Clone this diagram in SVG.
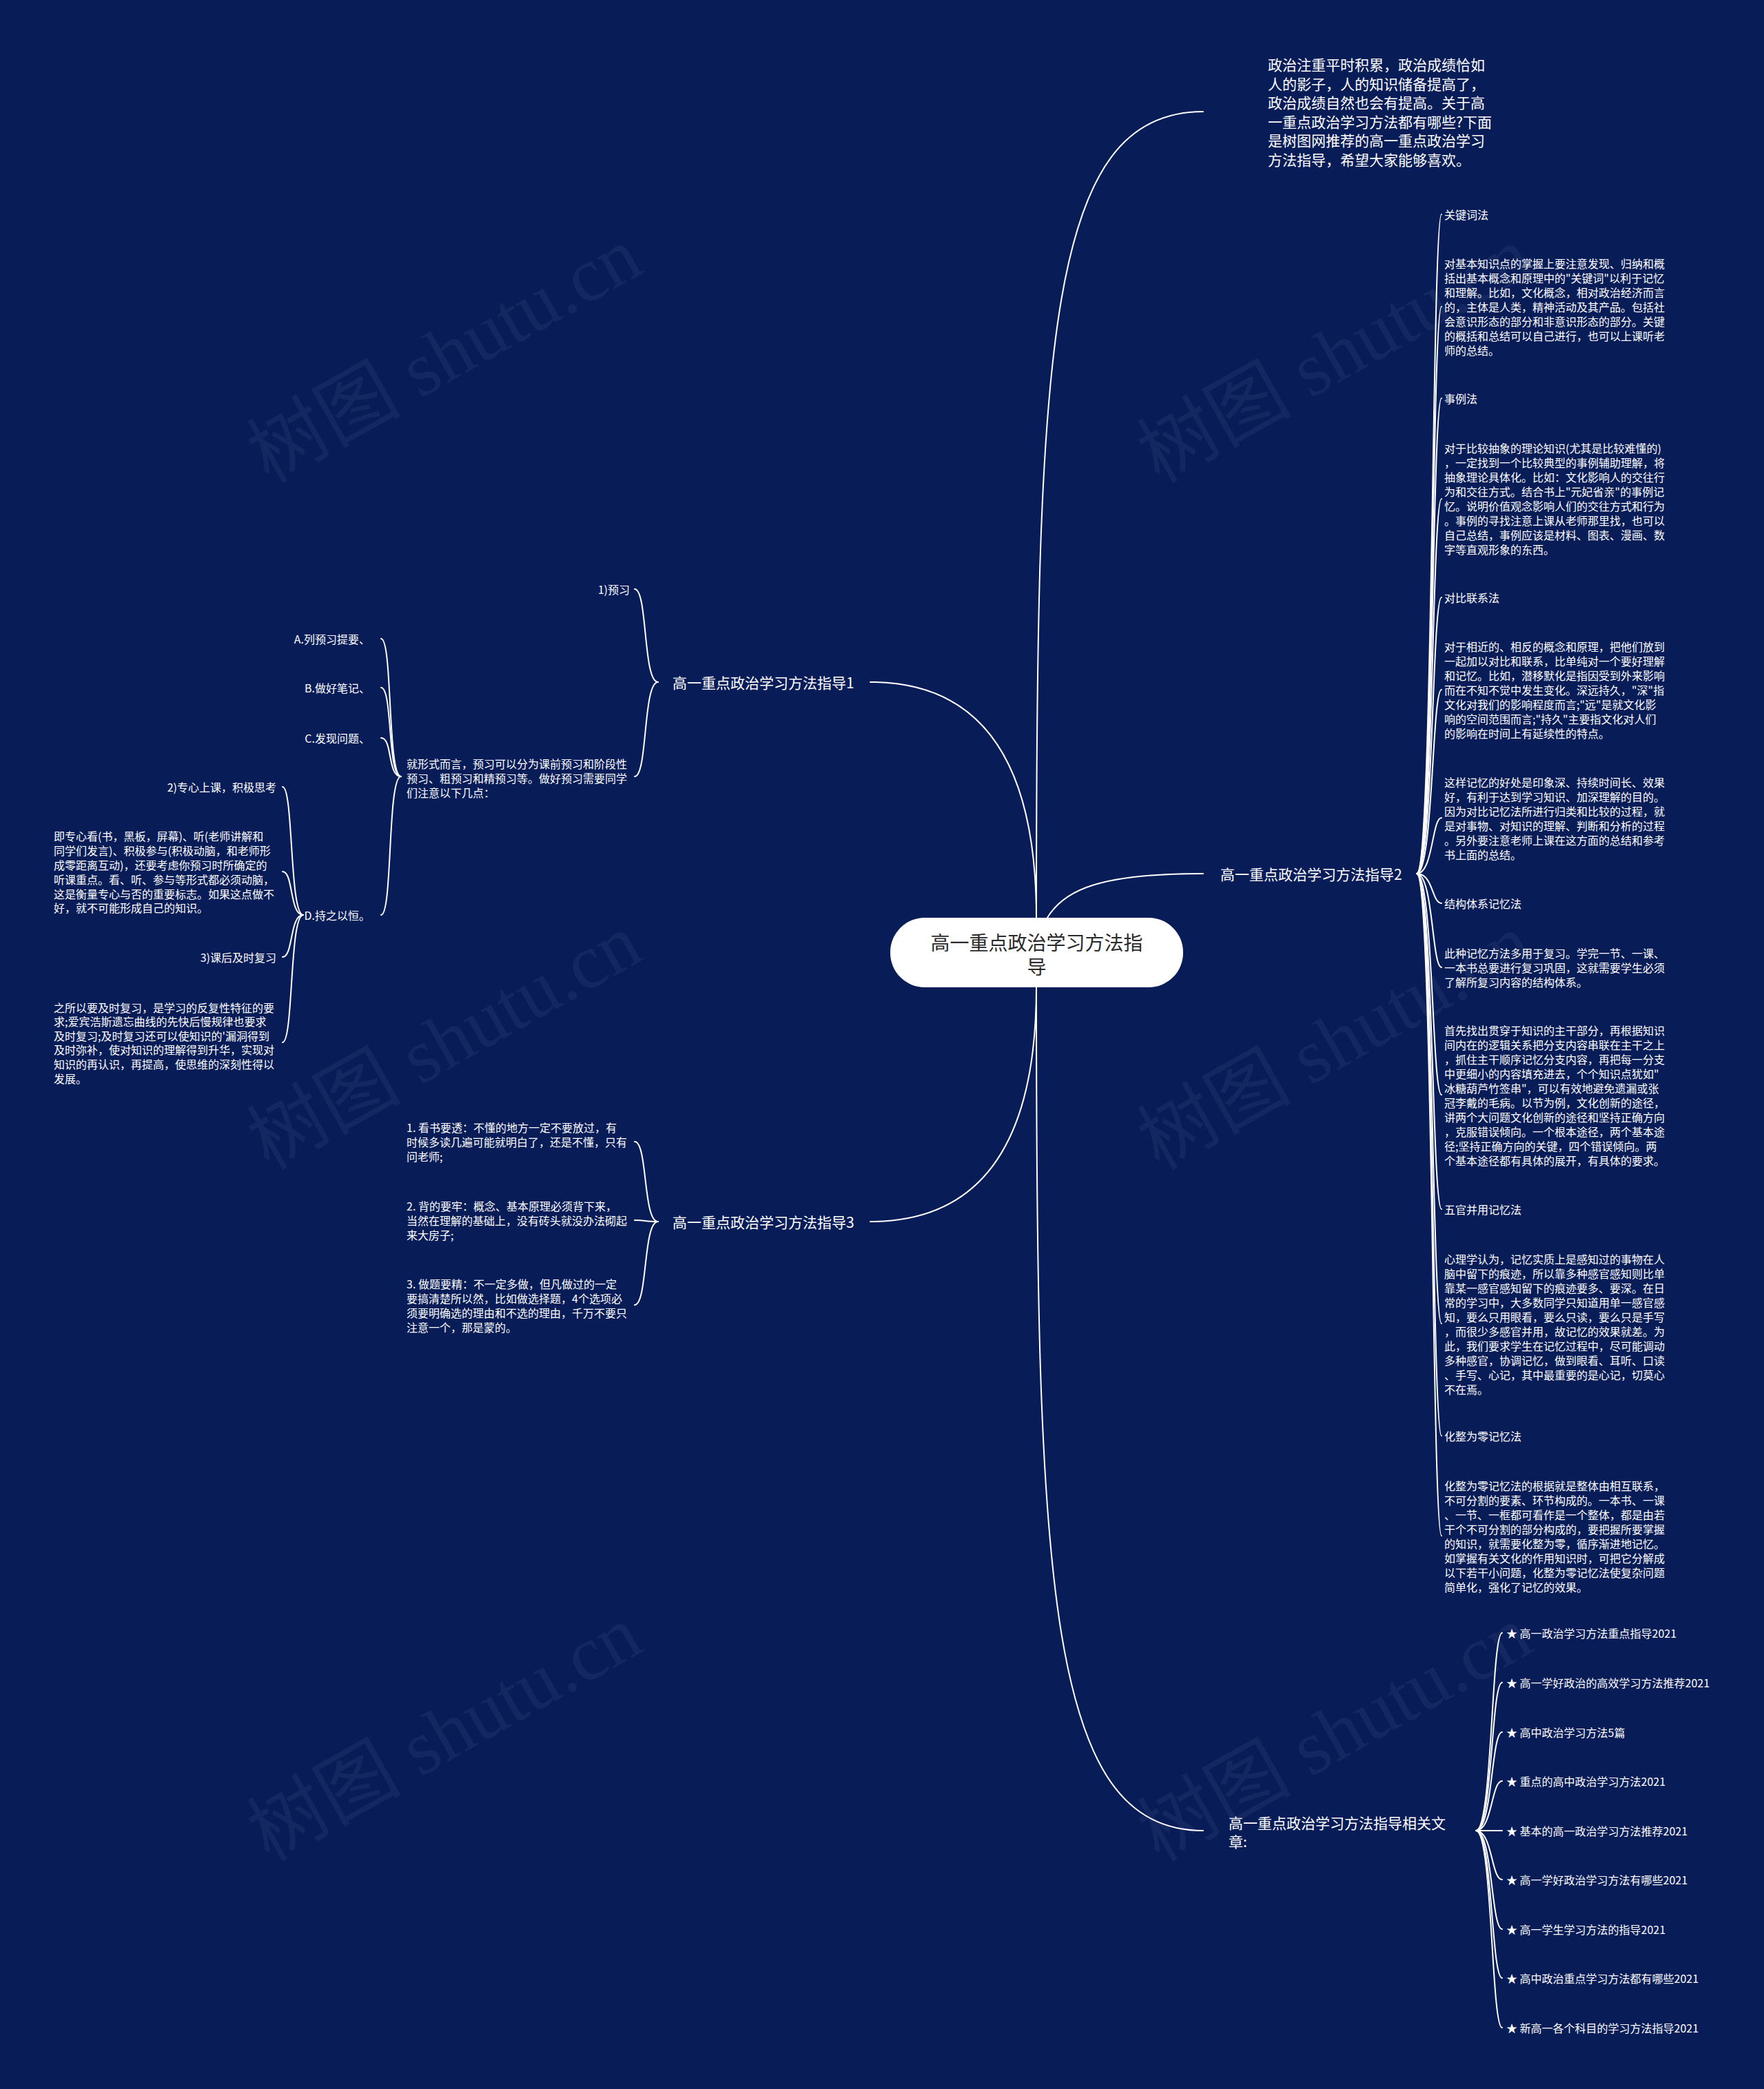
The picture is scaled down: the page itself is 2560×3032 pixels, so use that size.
<svg xmlns="http://www.w3.org/2000/svg" width="2560" height="3032" viewBox="0 0 2560 3032">
<style>
text{font-family:"Noto Sans CJK SC","Noto Sans",sans-serif;fill:#ffffff;dominant-baseline:central}
.s16{font-size:16px}
.s21{font-size:21px}
.r{text-anchor:end}
.wm{font-family:"Liberation Serif","Noto Sans CJK SC",serif;font-size:112px;fill:#ffffff;fill-opacity:0.05}
.c path{fill:none;stroke:#ffffff;stroke-width:2;stroke-linecap:round}
</style>
<rect x="0" y="0" width="2560" height="3032" fill="#081c58"/>
<g id="watermarks">
<text class="wm" transform="translate(645,515) rotate(-29.4)" text-anchor="middle">树图 shutu.cn</text>
<text class="wm" transform="translate(1937,515) rotate(-29.4)" text-anchor="middle">树图 shutu.cn</text>
<text class="wm" transform="translate(645,1512) rotate(-29.4)" text-anchor="middle">树图 shutu.cn</text>
<text class="wm" transform="translate(1937,1512) rotate(-29.4)" text-anchor="middle">树图 shutu.cn</text>
<text class="wm" transform="translate(645,2516) rotate(-29.4)" text-anchor="middle">树图 shutu.cn</text>
<text class="wm" transform="translate(1937,2516) rotate(-29.4)" text-anchor="middle">树图 shutu.cn</text>
</g>
<g id="connectors" class="c">
<path d="M1504 1332 C1504 500 1520 162 1746 162"/>
<path d="M1520 1332 C1545 1290 1600 1268 1746 1268"/>
<path d="M1504 1332 Q1504 990 1263 990"/>
<path d="M1504 1433 Q1504 1773 1263 1773"/>
<path d="M1504 1433 C1504 2300 1520 2657 1746 2657"/>
<path d="M2056 1268 C2080 1268 2078 311 2092 311"/>
<path d="M2056 1268 C2080 1268 2078 445 2092 445"/>
<path d="M2056 1268 C2080 1268 2078 578 2092 578"/>
<path d="M2056 1268 C2080 1268 2078 724 2092 724"/>
<path d="M2056 1268 C2080 1268 2078 867 2092 867"/>
<path d="M2056 1268 C2080 1268 2078 1001 2092 1001"/>
<path d="M2056 1268 C2080 1268 2078 1187 2092 1187"/>
<path d="M2056 1268 C2080 1268 2078 1311 2092 1311"/>
<path d="M2056 1268 C2080 1268 2078 1404 2092 1404"/>
<path d="M2056 1268 C2080 1268 2078 1589 2092 1589"/>
<path d="M2056 1268 C2080 1268 2078 1755 2092 1755"/>
<path d="M2056 1268 C2080 1268 2078 1921 2092 1921"/>
<path d="M2056 1268 C2080 1268 2078 2084 2092 2084"/>
<path d="M2056 1268 C2080 1268 2078 2229 2092 2229"/>
<path d="M955 990 C933 990 940 855 921 855"/>
<path d="M955 990 C933 990 940 1127 921 1127"/>
<path d="M582 1127 C562 1127 570 927 553 927"/>
<path d="M582 1127 C562 1127 570 998 553 998"/>
<path d="M582 1127 C562 1127 570 1071 553 1071"/>
<path d="M582 1127 C562 1127 570 1328 553 1328"/>
<path d="M440 1328 C420 1328 426 1142 410 1142"/>
<path d="M440 1328 C420 1328 426 1265 410 1265"/>
<path d="M440 1328 C420 1328 426 1389 410 1389"/>
<path d="M440 1328 C420 1328 426 1513 410 1513"/>
<path d="M955 1773 C933 1773 940 1657 921 1657"/>
<path d="M955 1773 C933 1773 940 1771 921 1771"/>
<path d="M955 1773 C933 1773 940 1894 921 1894"/>
<path d="M2142 2657 C2166 2657 2164 2370 2180 2370"/>
<path d="M2142 2657 C2166 2657 2164 2442 2180 2442"/>
<path d="M2142 2657 C2166 2657 2164 2514 2180 2514"/>
<path d="M2142 2657 C2166 2657 2164 2585 2180 2585"/>
<path d="M2142 2657 L2180 2657"/>
<path d="M2142 2657 C2166 2657 2164 2728 2180 2728"/>
<path d="M2142 2657 C2166 2657 2164 2800 2180 2800"/>
<path d="M2142 2657 C2166 2657 2164 2871 2180 2871"/>
<path d="M2142 2657 C2166 2657 2164 2943 2180 2943"/>
</g>
<g id="root">
<rect x="1292" y="1332" width="425" height="101" rx="50" ry="50" fill="#ffffff"/>
<text x="1504.5" y="1367" text-anchor="middle" style="font-size:28px;fill:#2a2a2a">高一重点政治学习方法指</text>
<text x="1504.5" y="1402" text-anchor="middle" style="font-size:28px;fill:#2a2a2a">导</text>
</g>
<g id="intro">
<text class="s21" x="1840"><tspan x="1840" y="93">政治注重平时积累，政治成绩恰如</tspan><tspan x="1840" y="120.5">人的影子，人的知识储备提高了，</tspan><tspan x="1840" y="148">政治成绩自然也会有提高。关于高</tspan><tspan x="1840" y="175.5">一重点政治学习方法都有哪些?下面</tspan><tspan x="1840" y="203">是树图网推荐的高一重点政治学习</tspan><tspan x="1840" y="230.5">方法指导，希望大家能够喜欢。</tspan></text>
</g>
<g id="branch1">
<text class="s21" x="976" y="990">高一重点政治学习方法指导1</text>
</g>
<g id="b1-yuxi"><text class="s16 r" x="914" y="855">1)预习</text></g>
<g id="b1-para">
<text class="s16"><tspan x="590" y="1108">就形式而言，预习可以分为课前预习和阶段性</tspan><tspan x="590" y="1129">预习、粗预习和精预习等。做好预习需要同学</tspan><tspan x="590" y="1150">们注意以下几点：</tspan></text>
</g>
<g id="b1-a"><text class="s16 r" x="537" y="927">A.列预习提要、</text></g>
<g id="b1-b"><text class="s16 r" x="537" y="998">B.做好笔记、</text></g>
<g id="b1-c"><text class="s16 r" x="537" y="1071">C.发现问题、</text></g>
<g id="b1-d"><text class="s16 r" x="537" y="1328">D.持之以恒。</text></g>
<g id="b1-d1"><text class="s16 r" x="401" y="1142">2)专心上课，积极思考</text></g>
<g id="b1-d2">
<text class="s16"><tspan x="78" y="1213">即专心看(书，黑板，屏幕)、听(老师讲解和</tspan><tspan x="78" y="1234">同学们发言)、积极参与(积极动脑，和老师形</tspan><tspan x="78" y="1255">成零距离互动)，还要考虑你预习时所确定的</tspan><tspan x="78" y="1276">听课重点。看、听、参与等形式都必须动脑，</tspan><tspan x="78" y="1297">这是衡量专心与否的重要标志。如果这点做不</tspan><tspan x="78" y="1317">好，就不可能形成自己的知识。</tspan></text>
</g>
<g id="b1-d3"><text class="s16 r" x="401" y="1389">3)课后及时复习</text></g>
<g id="b1-d4">
<text class="s16"><tspan x="78" y="1462">之所以要及时复习，是学习的反复性特征的要</tspan><tspan x="78" y="1482">求;爱宾浩斯遗忘曲线的先快后慢规律也要求</tspan><tspan x="78" y="1503">及时复习;及时复习还可以使知识的'漏洞得到</tspan><tspan x="78" y="1523">及时弥补，使对知识的理解得到升华，实现对</tspan><tspan x="78" y="1544">知识的再认识，再提高，使思维的深刻性得以</tspan><tspan x="78" y="1565">发展。</tspan></text>
</g>
<g id="branch3">
<text class="s21" x="976" y="1773">高一重点政治学习方法指导3</text>
</g>
<g id="b3-1">
<text class="s16"><tspan x="590" y="1636">1. 看书要透：不懂的地方一定不要放过，有</tspan><tspan x="590" y="1657">时候多读几遍可能就明白了，还是不懂，只有</tspan><tspan x="590" y="1678">问老师;</tspan></text>
</g>
<g id="b3-2">
<text class="s16"><tspan x="590" y="1750">2. 背的要牢：概念、基本原理必须背下来，</tspan><tspan x="590" y="1771">当然在理解的基础上，没有砖头就没办法砌起</tspan><tspan x="590" y="1792">来大房子;</tspan></text>
</g>
<g id="b3-3">
<text class="s16"><tspan x="590" y="1863">3. 做题要精：不一定多做，但凡做过的一定</tspan><tspan x="590" y="1884">要搞清楚所以然，比如做选择题，4个选项必</tspan><tspan x="590" y="1905">须要明确选的理由和不选的理由，千万不要只</tspan><tspan x="590" y="1926">注意一个，那是蒙的。</tspan></text>
</g>
<g id="branch2">
<text class="s21" x="1771" y="1268">高一重点政治学习方法指导2</text>
</g>
<g id="b2-1"><text class="s16" x="2096" y="311">关键词法</text></g>
<g id="b2-2">
<text class="s16"><tspan x="2096" y="382">对基本知识点的掌握上要注意发现、归纳和概</tspan><tspan x="2096" y="403">括出基本概念和原理中的"关键词"以利于记忆</tspan><tspan x="2096" y="424">和理解。比如，文化概念，相对政治经济而言</tspan><tspan x="2096" y="445">的，主体是人类，精神活动及其产品。包括社</tspan><tspan x="2096" y="466">会意识形态的部分和非意识形态的部分。关键</tspan><tspan x="2096" y="487">的概括和总结可以自己进行，也可以上课听老</tspan><tspan x="2096" y="508">师的总结。</tspan></text>
</g>
<g id="b2-3"><text class="s16" x="2096" y="578">事例法</text></g>
<g id="b2-4">
<text class="s16"><tspan x="2096" y="650">对于比较抽象的理论知识(尤其是比较难懂的)</tspan><tspan x="2096" y="671">，一定找到一个比较典型的事例辅助理解，将</tspan><tspan x="2096" y="692">抽象理论具体化。比如：文化影响人的交往行</tspan><tspan x="2096" y="713">为和交往方式。结合书上"元妃省亲"的事例记</tspan><tspan x="2096" y="734">忆。说明价值观念影响人们的交往方式和行为</tspan><tspan x="2096" y="755">。事例的寻找注意上课从老师那里找，也可以</tspan><tspan x="2096" y="776">自己总结，事例应该是材料、图表、漫画、数</tspan><tspan x="2096" y="797">字等直观形象的东西。</tspan></text>
</g>
<g id="b2-5"><text class="s16" x="2096" y="867">对比联系法</text></g>
<g id="b2-6">
<text class="s16"><tspan x="2096" y="938">对于相近的、相反的概念和原理，把他们放到</tspan><tspan x="2096" y="959">一起加以对比和联系，比单纯对一个要好理解</tspan><tspan x="2096" y="980">和记忆。比如，潜移默化是指因受到外来影响</tspan><tspan x="2096" y="1001">而在不知不觉中发生变化。深远持久，"深"指</tspan><tspan x="2096" y="1022">文化对我们的影响程度而言;"远"是就文化影</tspan><tspan x="2096" y="1043">响的空间范围而言;"持久"主要指文化对人们</tspan><tspan x="2096" y="1064">的影响在时间上有延续性的特点。</tspan></text>
</g>
<g id="b2-7">
<text class="s16"><tspan x="2096" y="1135">这样记忆的好处是印象深、持续时间长、效果</tspan><tspan x="2096" y="1156">好，有利于达到学习知识、加深理解的目的。</tspan><tspan x="2096" y="1177">因为对比记忆法所进行归类和比较的过程，就</tspan><tspan x="2096" y="1198">是对事物、对知识的理解、判断和分析的过程</tspan><tspan x="2096" y="1219">。另外要注意老师上课在这方面的总结和参考</tspan><tspan x="2096" y="1240">书上面的总结。</tspan></text>
</g>
<g id="b2-8"><text class="s16" x="2096" y="1311">结构体系记忆法</text></g>
<g id="b2-9">
<text class="s16"><tspan x="2096" y="1383">此种记忆方法多用于复习。学完一节、一课、</tspan><tspan x="2096" y="1404">一本书总要进行复习巩固，这就需要学生必须</tspan><tspan x="2096" y="1425">了解所复习内容的结构体系。</tspan></text>
</g>
<g id="b2-10">
<text class="s16"><tspan x="2096" y="1495">首先找出贯穿于知识的主干部分，再根据知识</tspan><tspan x="2096" y="1516">间内在的逻辑关系把分支内容串联在主干之上</tspan><tspan x="2096" y="1537">，抓住主干顺序记忆分支内容，再把每一分支</tspan><tspan x="2096" y="1558">中更细小的内容填充进去，个个知识点犹如"</tspan><tspan x="2096" y="1579">冰糖葫芦竹签串"，可以有效地避免遗漏或张</tspan><tspan x="2096" y="1600">冠李戴的毛病。以节为例，文化创新的途径，</tspan><tspan x="2096" y="1621">讲两个大问题文化创新的途径和坚持正确方向</tspan><tspan x="2096" y="1642">，克服错误倾向。一个根本途径，两个基本途</tspan><tspan x="2096" y="1663">径;坚持正确方向的关键，四个错误倾向。两</tspan><tspan x="2096" y="1684">个基本途径都有具体的展开，有具体的要求。</tspan></text>
</g>
<g id="b2-11"><text class="s16" x="2096" y="1755">五官并用记忆法</text></g>
<g id="b2-12">
<text class="s16"><tspan x="2096" y="1827">心理学认为，记忆实质上是感知过的事物在人</tspan><tspan x="2096" y="1848">脑中留下的痕迹，所以靠多种感官感知则比单</tspan><tspan x="2096" y="1869">靠某一感官感知留下的痕迹要多、要深。在日</tspan><tspan x="2096" y="1890">常的学习中，大多数同学只知道用单一感官感</tspan><tspan x="2096" y="1911">知，要么只用眼看，要么只读，要么只是手写</tspan><tspan x="2096" y="1932">，而很少多感官并用，故记忆的效果就差。为</tspan><tspan x="2096" y="1953">此，我们要求学生在记忆过程中，尽可能调动</tspan><tspan x="2096" y="1974">多种感官，协调记忆，做到眼看、耳听、口读</tspan><tspan x="2096" y="1995">、手写、心记，其中最重要的是心记，切莫心</tspan><tspan x="2096" y="2016">不在焉。</tspan></text>
</g>
<g id="b2-13"><text class="s16" x="2096" y="2084">化整为零记忆法</text></g>
<g id="b2-14">
<text class="s16"><tspan x="2096" y="2156">化整为零记忆法的根据就是整体由相互联系，</tspan><tspan x="2096" y="2177">不可分割的要素、环节构成的。一本书、一课</tspan><tspan x="2096" y="2198">、一节、一框都可看作是一个整体，都是由若</tspan><tspan x="2096" y="2219">干个不可分割的部分构成的，要把握所要掌握</tspan><tspan x="2096" y="2240">的知识，就需要化整为零，循序渐进地记忆。</tspan><tspan x="2096" y="2261">如掌握有关文化的作用知识时，可把它分解成</tspan><tspan x="2096" y="2282">以下若干小问题，化整为零记忆法使复杂问题</tspan><tspan x="2096" y="2303">简单化，强化了记忆的效果。</tspan></text>
</g>
<g id="branch4">
<text class="s21"><tspan x="1783" y="2645">高一重点政治学习方法指导相关文</tspan><tspan x="1783" y="2672">章:</tspan></text>
</g>
<g id="b4-1"><text class="s16" x="2186" y="2370">★ 高一政治学习方法重点指导2021</text></g>
<g id="b4-2"><text class="s16" x="2186" y="2442">★ 高一学好政治的高效学习方法推荐2021</text></g>
<g id="b4-3"><text class="s16" x="2186" y="2514">★ 高中政治学习方法5篇</text></g>
<g id="b4-4"><text class="s16" x="2186" y="2585">★ 重点的高中政治学习方法2021</text></g>
<g id="b4-5"><text class="s16" x="2186" y="2657">★ 基本的高一政治学习方法推荐2021</text></g>
<g id="b4-6"><text class="s16" x="2186" y="2728">★ 高一学好政治学习方法有哪些2021</text></g>
<g id="b4-7"><text class="s16" x="2186" y="2800">★ 高一学生学习方法的指导2021</text></g>
<g id="b4-8"><text class="s16" x="2186" y="2871">★ 高中政治重点学习方法都有哪些2021</text></g>
<g id="b4-9"><text class="s16" x="2186" y="2943">★ 新高一各个科目的学习方法指导2021</text></g>
</svg>
